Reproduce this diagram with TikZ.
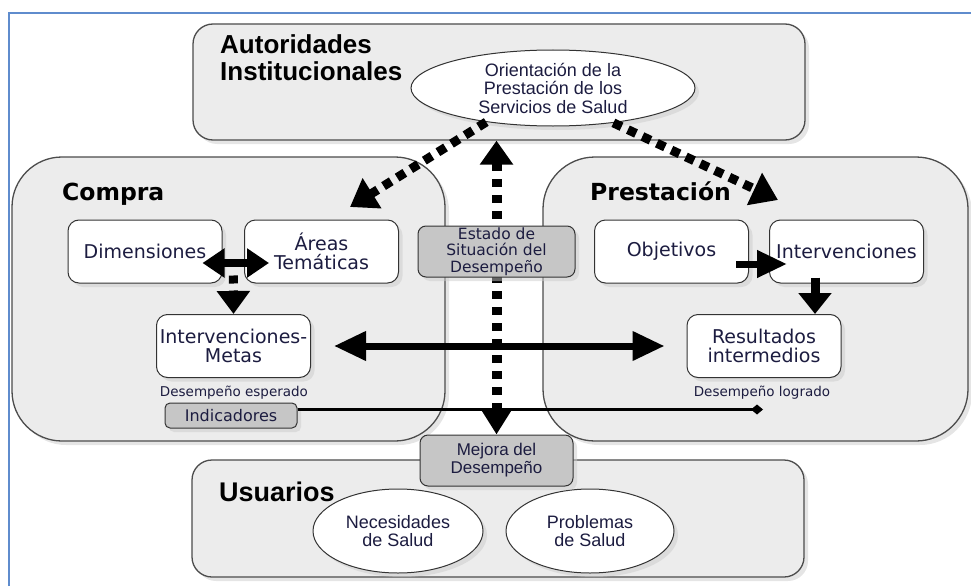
\documentclass[tikz,border=0pt]{standalone}
\usepackage{fontspec}
\setmainfont{Liberation Sans}
\newfontfamily\verdfont{DejaVu Sans}
\usetikzlibrary{arrows.meta,shadows,shapes.geometric,calc}

\definecolor{regfill}{RGB}{236,236,236}
\definecolor{boxgray}{RGB}{198,198,198}
\definecolor{framblue}{RGB}{95,140,205}
\definecolor{txtnavy}{RGB}{28,28,64}

\tikzset{
  shad/.style={drop shadow={shadow xshift=4pt,shadow yshift=-4pt,fill=black!20}},
  region/.style={draw=black!70, line width=1.3pt, fill=regfill, rounded corners=#1, shad, inner sep=0pt},
  region/.default=20pt,
  wbox/.style={draw=black!80, line width=1pt, fill=white, rounded corners=11pt, minimum width=154pt,
    minimum height=63pt, align=center, text=txtnavy, inner sep=0pt, shad,
    font=\verdfont\fontsize{19}{19.5}\selectfont},
  gbox/.style={draw=black!80, line width=1pt, fill=boxgray, rounded corners=8pt, align=center,
    text=txtnavy, inner sep=0pt, shad},
  oval/.style={ellipse, draw=black!80, line width=1pt, fill=white, inner sep=0pt, align=center,
    text=txtnavy, shad, font=\fontsize{18}{18.5}\selectfont},
  regtitle/.style={anchor=base west, inner sep=0pt, text=black},
  dotarrow/.style={line width=9pt, dash pattern=on 9pt off 7pt},
  fatarrow/.style={line width=7pt}
}

\begin{document}
\begin{tikzpicture}[x=1pt,y=-1pt]
  \useasboundingbox (0,0) rectangle (971,586);
  \draw[framblue, line width=1.5pt] (9,586) -- (9,13) -- (971,13);

  % regiones
  \node[region, minimum width=612pt, minimum height=116pt] (autor) at (499,82) {};
  \node[region=50pt, minimum width=433pt, minimum height=284pt] (compra) at (228.5,299) {};
  \node[region=52pt, minimum width=425pt, minimum height=284pt] (prest) at (755.5,299) {};
  \node[region, minimum width=612pt, minimum height=117pt] (usuar) at (498,518.5) {};

  \node[regtitle, font=\bfseries\fontsize{26}{26}\selectfont] (autortit) at (220,53) {Autoridades};
  \node[regtitle, font=\bfseries\fontsize{26}{26}\selectfont] (insttit) at (220,81) {Institucionales};
  \node[regtitle, font=\verdfont\bfseries\fontsize{23.5}{24}\selectfont] (compratit) at (62,200) {Compra};
  \node[regtitle, font=\verdfont\bfseries\fontsize{23.5}{24}\selectfont] (presttit) at (590,200) {Prestación};
  \node[regtitle, font=\bfseries\fontsize{27}{27}\selectfont] (usuartit) at (219,501) {Usuarios};

  % elipses
  \node[oval, minimum width=284pt, minimum height=76pt] (orient) at (553,88) {Orientación de la\\Prestación de los\\Servicios de Salud};
  \node[oval, minimum width=170pt, minimum height=84pt] (necesid) at (398,531) {Necesidades\\de Salud};
  \node[oval, minimum width=168pt, minimum height=84pt] (problem) at (590,531) {Problemas\\de Salud};

  % cajas
  \node[wbox] (dimen) at (145,251.5) {Dimensiones};
  \node[wbox] (areas) at (321.5,251.5) {Áreas\\Temáticas};
  \node[wbox] (intmet) at (233.5,346) {Intervenciones-\\Metas};
  \node[wbox] (objet) at (671.5,251.5) {Objetivos};
  \node[wbox] (interv) at (846.5,251.5) {Intervenciones};
  \node[wbox] (result) at (764,346) {Resultados\\intermedios};
  \node[text=txtnavy, font=\verdfont\fontsize{13.5}{14}\selectfont] (despesp) at (234,393) {Desempeño esperado};
  \node[text=txtnavy, font=\verdfont\fontsize{13.5}{14}\selectfont] (desplog) at (762,393) {Desempeño logrado};
  \node[gbox, minimum width=132pt, minimum height=25pt, rounded corners=5pt, font=\verdfont\fontsize{16}{16}\selectfont] (indic) at (231,415.5) {Indicadores};
  \node[gbox, minimum width=153pt, minimum height=51pt, font=\fontsize{17}{18}\selectfont] (mejora) at (496.5,460.5) {Mejora del\\Desempeño};

  % flechas
  \coordinate (cmptip) at (350,207);
  \coordinate (prstip) at (778,200);
  \coordinate (logtip) at (763,409.5);
  \coordinate (dimjoin) at ($(dimen.east)!.5!(areas.west)+(0,24)$);
  \draw[line width=3.5pt, -{Diamond[length=12pt,width=10pt]}] ([yshift=6pt]indic.east) -- (logtip);
  \draw[dotarrow, -{Triangle[length=26pt,width=34pt]}] (orient.207) -- (cmptip);
  \draw[dotarrow, -{Triangle[length=26pt,width=34pt]}] (orient.330) -- (prstip);
  \draw[dotarrow, line width=10pt, dash pattern=on 8pt off 8pt,
    {Triangle[length=24pt,width=32pt]}-{Triangle[length=24pt,width=28pt]}] (mejora.north |- autor.south) -- (mejora.north);
  \draw[fatarrow, {Triangle[length=32pt,width=28pt]}-{Triangle[length=32pt,width=28pt]},
    shorten <=23pt, shorten >=22pt] (intmet) -- (result);
  \draw[fatarrow, line width=8pt, {Triangle[length=22pt,width=28pt]}-{Triangle[length=22pt,width=28pt]}]
    ([xshift=-20pt,yshift=-11.5pt]dimen.east) -- ([xshift=25pt,yshift=-11.5pt]areas.west);
  \draw[line width=9pt, dash pattern=on 8pt off 7pt, -{Triangle[length=23pt,width=32pt]}] (dimjoin) -- (intmet.north);
  \draw[fatarrow, -{Triangle[length=30pt,width=26pt]}]
    ([xshift=-13pt,yshift=-12.5pt]objet.east) -- ([xshift=18pt,yshift=-12.5pt]interv.west);
  \draw[line width=9pt, -{Triangle[length=21pt,width=32pt]}] ($(interv.south)+(-31.5,-6)$) -- ($(result.north)+(51,0)$);

  \node[gbox, minimum width=157pt, minimum height=51pt, font=\verdfont\fontsize{15.5}{16.5}\selectfont] (estado) at (496.5,251.5) {Estado de\\Situación del\\Desempeño};
\end{tikzpicture}
\end{document}
